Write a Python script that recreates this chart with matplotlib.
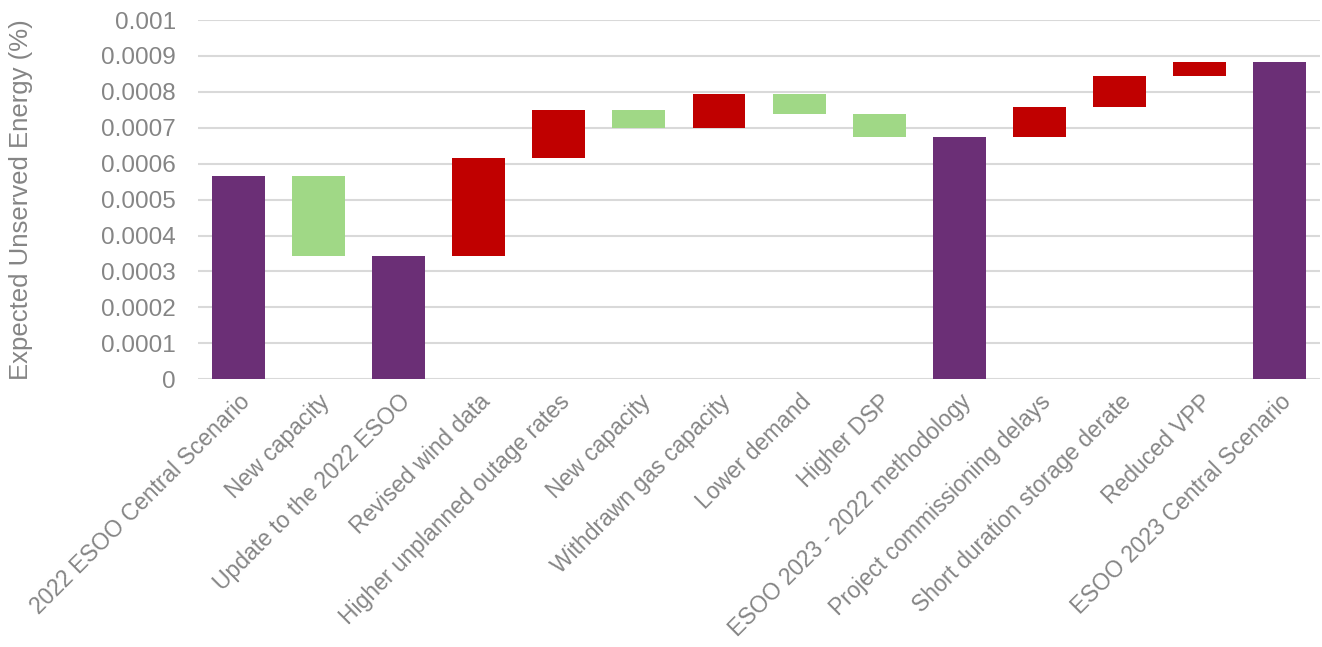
import matplotlib.pyplot as plt

plt.rcParams['font.family'] = ['Liberation Sans', 'DejaVu Sans']

# Categories and changes (None = total bar)
categories = ["2022 ESOO Central Scenario", "New capacity", "Update to the 2022 ESOO",
              "Revised wind data", "Higher unplanned outage rates", "New capacity",
              "Withdrawn gas capacity", "Lower demand", "Higher DSP",
              "ESOO 2023 - 2022 methodology", "Project commissioning delays",
              "Short duration storage derate", "Reduced VPP", "ESOO 2023 Central Scenario"]
start_value = 0.000566
changes = [None, -0.000223, None, 0.000272, 0.000135, -0.000050, 0.000093,
           -0.000055, -0.000064, None, 0.000083, 0.000087, 0.000038, None]

purple = "#6B2F76"
green = "#A0D886"
red = "#C00000"
grey = "#858585"

fig = plt.figure(figsize=(13.22, 6.47), dpi=100)
ax = fig.add_axes([0.1498, 0.414, 0.8487, 0.555])

level = start_value
for i, ch in enumerate(changes):
    if ch is None:
        ax.bar(i, level, width=0.66, color=purple, zorder=3)
    else:
        bottom = min(level, level + ch)
        ax.bar(i, abs(ch), bottom=bottom, width=0.66,
               color=green if ch < 0 else red, zorder=3)
        level += ch

ax.set_xlim(-0.5, len(categories) - 0.5)
ax.set_ylim(0, 0.001)
ax.set_yticks([i / 10000 for i in range(11)])
ax.set_yticklabels(["0"] + ["%.4f" % (i / 10000) for i in range(1, 10)] + ["0.001"])
ax.grid(axis="y", color="#d9d9d9", linewidth=1.5, zorder=0)
for s in ax.spines.values():
    s.set_visible(False)
ax.tick_params(length=0, labelsize=17.5, colors=grey)
ax.tick_params(axis="y", pad=16)
ax.tick_params(axis="x", pad=8, labelsize=16.5)
ax.set_xticks(range(len(categories)))
ax.set_xticklabels(categories, rotation=45, ha="right", rotation_mode="anchor")
ax.set_ylabel("Expected Unserved Energy (%)", fontsize=18.5, color=grey)
ax.yaxis.set_label_coords(-0.147, 0.5)

fig.savefig("out.png", dpi=100)
